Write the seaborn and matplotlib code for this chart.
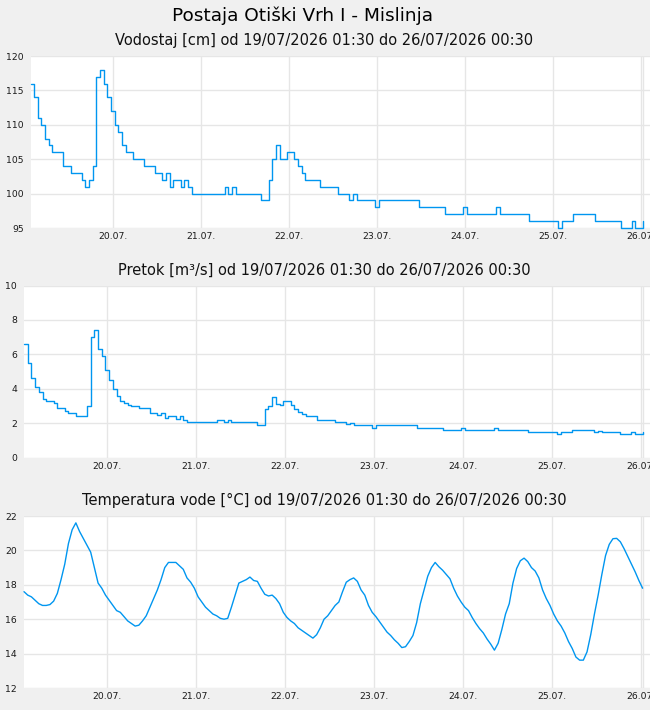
import numpy as np
import pandas as pd
import matplotlib
matplotlib.use("Agg")
import matplotlib.pyplot as plt
import matplotlib.dates as mdates
import seaborn as sns

# ---------------- data (hourly, 19/07/2026 01:30 .. 26/07/2026 00:30) ----------------
start_time = "2026-07-19 01:30"

level_cm = [
    116, 114, 111, 110, 108, 107, 106, 106, 106, 104,
    104, 103, 103, 103, 102, 101, 102, 104, 117, 118,
    116, 114, 112, 110, 109, 107, 106, 106, 105, 105,
    105, 104, 104, 104, 103, 103, 102, 103, 101, 102,
    102, 101, 102, 101, 100, 100, 100, 100, 100, 100,
    100, 100, 100, 101, 100, 101, 100, 100, 100, 100,
    100, 100, 100, 99, 99, 102, 105, 107, 105, 105,
    106, 106, 105, 104, 103, 102, 102, 102, 102, 101,
    101, 101, 101, 101, 100, 100, 100, 99, 100, 99,
    99, 99, 99, 99, 98, 99, 99, 99, 99, 99,
    99, 99, 99, 99, 99, 99, 98, 98, 98, 98,
    98, 98, 98, 97, 97, 97, 97, 97, 98, 97,
    97, 97, 97, 97, 97, 97, 97, 98, 97, 97,
    97, 97, 97, 97, 97, 97, 96, 96, 96, 96,
    96, 96, 96, 96, 95, 96, 96, 96, 97, 97,
    97, 97, 97, 97, 96, 96, 96, 96, 96, 96,
    96, 95, 95, 95, 96, 95, 95, 96,
]

flow_m3s = [
    6.6, 5.5, 4.6, 4.1, 3.8, 3.4, 3.3, 3.3, 3.2, 2.9,
    2.9, 2.7, 2.6, 2.6, 2.4, 2.4, 2.4, 3.0, 7.0, 7.4,
    6.3, 5.9, 5.1, 4.5, 4.0, 3.6, 3.3, 3.2, 3.05, 3.0,
    3.0, 2.9, 2.9, 2.9, 2.6, 2.6, 2.5, 2.6, 2.3, 2.45,
    2.45, 2.25, 2.4, 2.2, 2.05, 2.05, 2.05, 2.05, 2.05, 2.05,
    2.05, 2.05, 2.2, 2.2, 2.05, 2.2, 2.05, 2.05, 2.05, 2.05,
    2.05, 2.05, 2.05, 1.9, 1.9, 2.8, 3.0, 3.5, 3.1, 3.05,
    3.3, 3.3, 3.05, 2.85, 2.65, 2.55, 2.43, 2.43, 2.43, 2.2,
    2.2, 2.2, 2.2, 2.2, 2.1, 2.1, 2.05, 1.95, 2.0, 1.9,
    1.9, 1.9, 1.9, 1.9, 1.75, 1.9, 1.9, 1.9, 1.9, 1.9,
    1.9, 1.9, 1.9, 1.9, 1.9, 1.9, 1.75, 1.75, 1.75, 1.75,
    1.75, 1.75, 1.75, 1.6, 1.6, 1.6, 1.6, 1.6, 1.75, 1.6,
    1.6, 1.6, 1.6, 1.6, 1.6, 1.6, 1.6, 1.75, 1.6, 1.6,
    1.6, 1.6, 1.6, 1.6, 1.6, 1.6, 1.48, 1.48, 1.48, 1.48,
    1.48, 1.48, 1.48, 1.48, 1.36, 1.48, 1.48, 1.48, 1.6, 1.6,
    1.6, 1.6, 1.6, 1.6, 1.5, 1.55, 1.48, 1.48, 1.48, 1.48,
    1.48, 1.36, 1.36, 1.36, 1.48, 1.36, 1.36, 1.5,
]

temp_c = [
    17.6, 17.4, 17.3, 17.1, 16.9, 16.8, 16.8, 16.85, 17.05, 17.5,
    18.3, 19.2, 20.4, 21.2, 21.6, 21.1, 20.7, 20.3, 19.9, 19.0,
    18.1, 17.8, 17.4, 17.1, 16.8, 16.5, 16.4, 16.15, 15.9, 15.75,
    15.6, 15.65, 15.9, 16.2, 16.7, 17.2, 17.7, 18.3, 19.0, 19.3,
    19.3, 19.3, 19.1, 18.9, 18.4, 18.15, 17.8, 17.3, 17.0, 16.7,
    16.5, 16.3, 16.2, 16.05, 16.0, 16.05, 16.7, 17.4, 18.1, 18.2,
    18.3, 18.45, 18.25, 18.2, 17.8, 17.45, 17.35, 17.4, 17.2, 16.9,
    16.4, 16.1, 15.9, 15.75, 15.5, 15.35, 15.2, 15.05, 14.9, 15.1,
    15.5, 16.0, 16.2, 16.5, 16.8, 17.0, 17.6, 18.15, 18.3, 18.4,
    18.2, 17.7, 17.4, 16.8, 16.4, 16.15, 15.85, 15.55, 15.25, 15.05,
    14.8, 14.6, 14.35, 14.4, 14.7, 15.05, 15.8, 16.9, 17.7, 18.5,
    19.0, 19.3, 19.05, 18.85, 18.6, 18.35, 17.8, 17.35, 17.0, 16.7,
    16.5, 16.1, 15.75, 15.45, 15.2, 14.85, 14.55, 14.2, 14.6, 15.4,
    16.3, 16.9, 18.1, 18.95, 19.4, 19.55, 19.35, 19.0, 18.8, 18.4,
    17.7, 17.2, 16.8, 16.3, 15.9, 15.6, 15.2, 14.7, 14.3, 13.8,
    13.62, 13.62, 14.1, 15.1, 16.3, 17.4, 18.6, 19.7, 20.35, 20.68,
    20.7, 20.5, 20.1, 19.65, 19.2, 18.75, 18.25, 17.8,
]

main_title = "Postaja Otiški Vrh I - Mislinja"
panel_titles = [
    "Vodostaj [cm] od 19/07/2026 01:30 do 26/07/2026 00:30",
    "Pretok [m³/s] od 19/07/2026 01:30 do 26/07/2026 00:30",
    "Temperatura vode [°C] od 19/07/2026 01:30 do 26/07/2026 00:30",
]
y_ticks = [
    [95, 100, 105, 110, 115, 120],
    [0, 2, 4, 6, 8, 10],
    [12, 14, 16, 18, 20, 22],
]

# ---------------- styling ----------------
sns.set_theme(style="white")
plt.rcParams["font.family"] = ["DejaVu Sans"]

BG = "#f0f0f0"
GRID = "#e6e6e6"
LINE = "#0096f0"

W, H = 650, 710
fig = plt.figure(figsize=(W / 100, H / 100), dpi=100, facecolor=BG)

times = pd.date_range(start_time, periods=len(level_cm), freq="h")
x_lo = times[0]
x_hi = times[-1] + pd.Timedelta(hours=2)

# panel boxes in pixels: (left, top, bottom)
boxes = [(30.5, 56.0, 228.0), (24.0, 285.5, 457.7), (24.0, 516.0, 688.0)]
series = [level_cm, flow_m3s, temp_c]
styles = ["steps-post", "steps-post", "default"]

for i, (vals, box) in enumerate(zip(series, boxes)):
    left, top, bottom = box
    ax = fig.add_axes([left / W, 1 - bottom / H, (W - left) / W, (bottom - top) / H])
    ax.set_facecolor("white")
    df = pd.DataFrame({"t": times, "v": vals})
    sns.lineplot(data=df, x="t", y="v", ax=ax, color=LINE, linewidth=1.0,
                 drawstyle=styles[i], legend=False, clip_on=False)
    ax.set_xlim(x_lo, x_hi)
    ax.set_ylim(y_ticks[i][0], y_ticks[i][-1])
    ax.set_yticks(y_ticks[i])
    ax.set_yticklabels([str(t) for t in y_ticks[i]])
    ax.xaxis.set_major_locator(mdates.DayLocator())
    ax.xaxis.set_major_formatter(mdates.DateFormatter("%d.%m."))
    ax.grid(True, color=GRID, linewidth=1.0)
    ax.axvline(times[-1] + pd.Timedelta(minutes=10), color=GRID, linewidth=1.0, zorder=0.5)
    ax.set_axisbelow(True)
    for s in ax.spines.values():
        s.set_visible(False)
    ax.tick_params(axis="both", length=0, labelsize=6.7, colors="#1a1a1a")
    ax.tick_params(axis="y", pad=5)
    ax.tick_params(axis="x", pad=3)
    ax.set_xlabel("")
    ax.set_ylabel("")
    fig.text(324 / W, 1 - (top - 11) / H, panel_titles[i], ha="center",
             va="baseline", fontsize=10.5, color="#111111")

fig.text(302 / W, 1 - 21 / H, main_title, ha="center", va="baseline",
         fontsize=13.3, color="#000000")

fig.savefig("out.png", dpi=100, facecolor=BG)
